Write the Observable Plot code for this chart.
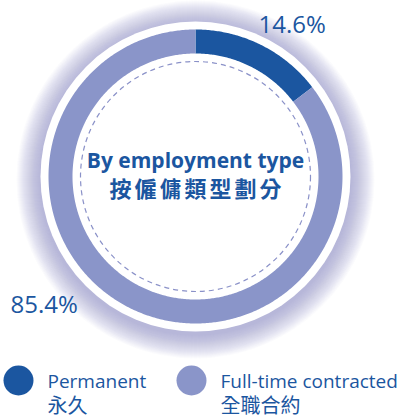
<!DOCTYPE html>
<html>
<head>
<meta charset="utf-8">
<script src="https://cdn.jsdelivr.net/npm/d3@7"></script>
<script src="https://cdn.jsdelivr.net/npm/@observablehq/plot@0.6"></script>
<style>
  html, body { margin: 0; padding: 0; background: #fff; }
  #chart svg { display: block; }
</style>
</head>
<body>
<div id="chart"></div>
<script>
// ---- data ----
const categories = ["Permanent", "Full-time contracted"];
const categoriesZh = ["永久", "全職合約"];
const values = [14.6, 85.4];
const valueLabels = ["14.6%", "85.4%"];
const titleEn = "By employment type";
const titleZh = "按僱傭類型劃分";
const colors = ["#1b56a0", "#8a95c9"];

// ---- layout ----
const W = 406, H = 415;
const cx = 195, cy = 176;
const rOuter = 147, rInner = 123, rHalo = 155, rDash = 115, glowWidth = 24;
const textColor = "#1b56a0";
const labelPos = [{x: 258, y: 32}, {x: 10, y: 312}];
const legendX = [18, 191], legendY = 380;
const font = "'Open Sans', 'Noto Sans CJK TC', sans-serif";
const cjk = "'Noto Sans CJK TC', sans-serif";

const rows = categories.map((c, i) => ({cat: c, zh: categoriesZh[i], value: values[i], label: valueLabels[i]}));
const arcs = d3.pie().sort(null).value(d => d.value)(rows);

const polys = [];
arcs.forEach(a => {
  const n = Math.max(2, Math.ceil((a.endAngle - a.startAngle) / 0.01));
  for (let i = 0; i <= n; i++) {
    const t = a.startAngle + (a.endAngle - a.startAngle) * i / n;
    polys.push({cat: a.data.cat, x: cx + rOuter * Math.sin(t), y: cy - rOuter * Math.cos(t)});
  }
  for (let i = n; i >= 0; i--) {
    const t = a.startAngle + (a.endAngle - a.startAngle) * i / n;
    polys.push({cat: a.data.cat, x: cx + rInner * Math.sin(t), y: cy - rInner * Math.cos(t)});
  }
});

const center = [{x: cx, y: cy}];
// concentric translucent discs build a soft glow around the white halo
const glowRings = d3.range(glowWidth, 0, -1).map(i => ({x: cx, y: cy, r: rHalo + i}));
const labelRows = rows.map((r, i) => ({...r, x: labelPos[i].x, y: labelPos[i].y}));
const legendRows = rows.map((r, i) => ({...r, x: legendX[i], y: legendY}));

const svg = Plot.plot({
  width: W, height: H, margin: 0,
  x: {domain: [0, W], range: [0, W], axis: null},
  y: {domain: [0, H], range: [0, H], axis: null},
  r: {type: "identity"},
  color: {domain: categories, range: colors},
  style: {fontFamily: font, background: "#fff", overflow: "visible"},
  marks: [
    Plot.dot(glowRings, {x: "x", y: "y", r: "r", dy: 3, fill: "#8f94cf", fillOpacity: 0.035, stroke: null}),
    Plot.dot(center, {x: "x", y: "y", r: rHalo, fill: "#fff", stroke: null}),
    Plot.line(polys, {x: "x", y: "y", z: "cat", fill: "cat", stroke: null, curve: "linear"}),
    Plot.dot(center, {x: "x", y: "y", r: rDash, fill: "none", stroke: "#8a91c8", strokeWidth: 1.2, strokeDasharray: "5,4"}),
    Plot.text(center, {x: "x", y: "y", text: () => titleEn, dy: -9, fontSize: 21, fontWeight: "bold", fill: textColor, fontFamily: font, lineAnchor: "bottom"}),
    Plot.text(center, {x: "x", y: "y", text: () => titleZh, dx: 1.5, dy: 20, fontSize: 22, fontWeight: "bold", fill: textColor, fontFamily: cjk, lineAnchor: "bottom"}),
    Plot.text(labelRows, {x: "x", y: "y", text: "label", textAnchor: "start", lineAnchor: "bottom", fontSize: 24, fill: textColor, fontFamily: font}),
    Plot.dot(legendRows, {x: "x", y: "y", r: 15, fill: "cat", stroke: null}),
    Plot.text(legendRows, {x: "x", y: "y", text: "cat", dx: 29, dy: 7, textAnchor: "start", lineAnchor: "bottom", fontSize: 19, fill: textColor, fontFamily: font}),
    Plot.text(legendRows, {x: "x", y: "y", text: "zh", dx: 29, dy: 32, textAnchor: "start", lineAnchor: "bottom", fontSize: 20, fill: textColor, fontFamily: cjk})
  ]
});

const texts = svg.querySelectorAll('g[aria-label="text"]');
if (texts[1]) texts[1].setAttribute("letter-spacing", "3");

document.getElementById("chart").appendChild(svg);
</script>
</body>
</html>
